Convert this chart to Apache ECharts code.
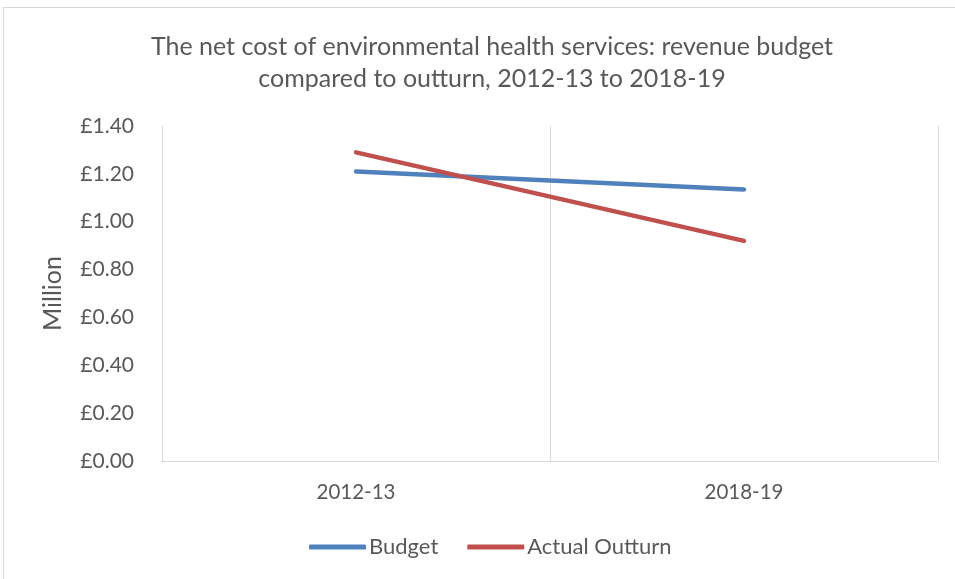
<!DOCTYPE html>
<html>
<head>
<meta charset="utf-8">
<script src="https://cdn.jsdelivr.net/npm/echarts@6/dist/echarts.min.js"></script>
<style>
html,body{margin:0;padding:0;background:#fff;overflow:hidden;}
#frame{position:absolute;left:3px;top:7px;width:960px;height:580px;border:1px solid #d9d9d9;box-sizing:border-box;}
#chart{position:absolute;left:0;top:0;width:955px;height:579px;}
</style>
</head>
<body>
<div id="frame"></div>
<div id="chart"></div>
<script>
const categories = ['2012-13', '2018-19'];
const budget = [1.21, 1.135];
const actualOutturn = [1.29, 0.92];
const yTicks = { min: 0, max: 1.4, interval: 0.2 };

const font = 'Lato, Open Sans, sans-serif';
const chart = echarts.init(document.getElementById('chart'), null, { renderer: 'canvas' });
chart.setOption({
  backgroundColor: 'transparent',
  animation: false,
  title: {
    text: 'The net cost of environmental health services: revenue budget\ncompared to outturn, 2012-13 to 2018-19',
    left: 487, textAlign: 'center', top: 26,
    textStyle: { fontFamily: font, fontSize: 25, fontWeight: 'normal', color: '#595959', lineHeight: 32 }
  },
  legend: {
    bottom: 21, left: 309, padding: 0,
    itemWidth: 57, itemHeight: 5, itemGap: 29,
    icon: 'roundRect',
    textStyle: { fontFamily: font, fontSize: 22, color: '#595959', padding: [0, 0, 0, -2] },
    data: ['Budget', 'Actual Outturn']
  },
  grid: { left: 162, right: 17, top: 126, bottom: 118 },
  xAxis: {
    type: 'category', data: categories, boundaryGap: true,
    axisLine: { show: true, lineStyle: { color: '#d9d9d9', width: 1 } },
    axisTick: { show: false },
    splitLine: { show: true, lineStyle: { color: '#d9d9d9', width: 1 } },
    axisLabel: { fontFamily: font, fontSize: 20.5, color: '#595959', margin: 21 }
  },
  yAxis: {
    type: 'value', min: yTicks.min, max: yTicks.max, interval: yTicks.interval,
    name: 'Million', nameLocation: 'middle', nameGap: 97, nameRotate: 90,
    nameTextStyle: { fontFamily: font, fontSize: 25, color: '#595959' },
    axisLine: { show: false }, axisTick: { show: false },
    splitLine: { show: false },
    axisLabel: { fontFamily: font, fontSize: 21, color: '#595959', margin: 28,
      formatter: v => '£' + v.toFixed(2) }
  },
  series: [
    { name: 'Budget', type: 'line', data: budget, symbol: 'none',
      lineStyle: { color: '#4f81bd', width: 4.5, cap: 'round' }, itemStyle: { color: '#4f81bd' } },
    { name: 'Actual Outturn', type: 'line', data: actualOutturn, symbol: 'none',
      lineStyle: { color: '#c0504d', width: 4.5, cap: 'round' }, itemStyle: { color: '#c0504d' } }
  ]
});
</script>
</body>
</html>
